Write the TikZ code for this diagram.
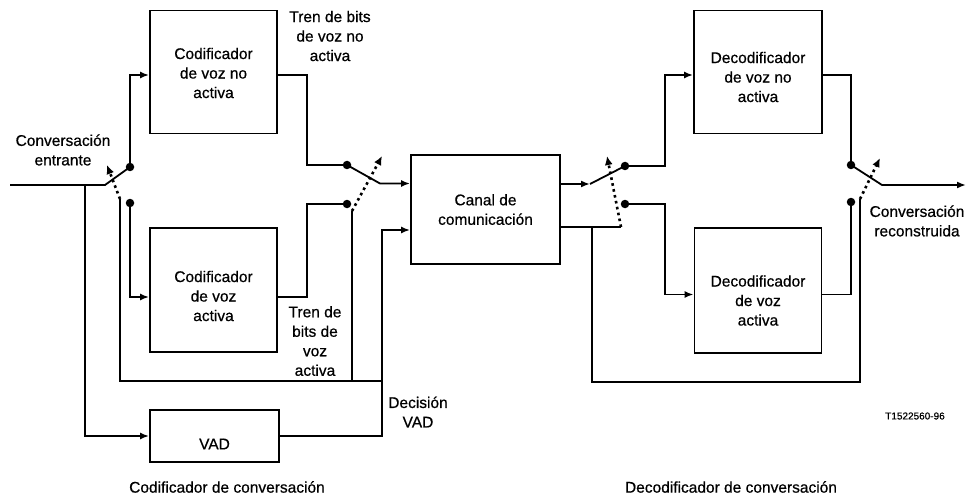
\documentclass[tikz,border=0pt]{standalone}
\usepackage{fontspec}
\setmainfont{Liberation Sans}[FakeBold=0.6]
\usetikzlibrary{arrows.meta}
\tikzset{
  wire/.style={line width=1.8pt, line join=miter},
  arr/.style={-{Latex[length=9pt,width=7pt]}},
  ctrl/.style={line width=2.6pt, dash pattern=on 2.6pt off 3.4pt,
               -{Latex[length=9pt,width=8pt]}},
  contact/.style={circle, fill=black, inner sep=0pt, minimum size=8.5pt},
  blk/.style={draw, line width=1.8pt, inner sep=0pt},
  lbl/.style={align=center, inner sep=0pt, font=\fontsize{15.5}{19.5}\selectfont}
}
\begin{document}
\begin{tikzpicture}[x=1pt,y=-1pt]
\useasboundingbox (0,0) rectangle (968,497);

% blocks
\node[blk, minimum width=127pt, minimum height=123pt] (cnv)   at (213.5,72)  {};
\node[blk, minimum width=127pt, minimum height=124pt] (cva)   at (213.5,290) {};
\node[blk, minimum width=129pt, minimum height=52pt]  (vad)   at (214.5,436) {};
\node[blk, minimum width=149pt, minimum height=109pt] (canal) at (485.5,209.5) {};
\node[blk, minimum width=128pt, minimum height=123pt] (dnv)   at (758,72)    {};
\node[blk, minimum width=127pt, minimum height=125pt] (dva)   at (758,290.5) {};

% block captions
\node[lbl] (tcnv) at ([yshift=-1pt]cnv.center)   {Codificador\\de voz no\\activa};
\node[lbl] (tcva) at ([yshift=-6pt]cva.center)   {Codificador\\de voz\\activa};
\node[lbl] (tvad) at ([yshift=-8pt]vad.center)   {VAD};
\node[lbl] (tcan) at ([yshift=0pt]canal.center)  {Canal de\\comunicación};
\node[lbl] (tdnv) at ([yshift=-5pt]dnv.center)   {Decodificador\\de voz no\\activa};
\node[lbl] (tdva) at ([yshift=-10pt]dva.center)  {Decodificador\\de voz\\activa};

% input switch
\coordinate (inp) at (10,185);
\coordinate (bend) at (105,185);
\coordinate (tap) at (85,185);
\node[contact] (s1u) at (130,167) {};
\node[contact] (s1l) at (130,203) {};
\draw[wire] (inp) -- (bend) -- (s1u.center);
\draw[wire,arr] (s1u.center) |- ([yshift=-3pt]cnv.west);
\draw[wire,arr] (s1l.center) |- ([yshift=-7pt]cva.west);
\draw[wire,arr] (tap) |- (vad.west);

% encoder output switch
\node[contact] (s2u) at (347,165) {};
\node[contact] (s2l) at (347,204) {};
\coordinate (k1) at (380,183.5);
\coordinate (k2) at (382,230);
\draw[wire] ([yshift=-3pt]cnv.east) -| (307,165) -- (s2u.center);
\draw[wire] ([yshift=-7pt]cva.east) -| (307,204) -- (s2l.center);
\draw[wire,arr] (s2u.center) -- (k1) -- (k1 -| canal.west);
\draw[wire,arr] (vad.east) -| (k2) -- (k2 -| canal.west);

% VAD decision bus on the encoder side
\coordinate (c1) at (120,199);
\coordinate (c1tip) at (107,165);
\coordinate (c2) at (352,211);
\coordinate (c2tip) at (382,156);
\coordinate (busR) at (382,381);
\draw[wire] (c1) -- (c1 |- busR) -- (busR);
\draw[wire] (c2) -- (c2 |- busR);
\draw[ctrl] (c1) -- (c1tip);
\draw[ctrl] (c2) -- (c2tip);

% decoder input switch
\coordinate (k3) at (590,184);
\node[contact] (s3u) at (625,166) {};
\node[contact] (s3l) at (625,204) {};
\coordinate (r1) at (665,166);
\coordinate (r2) at (665,204);
\draw[wire,arr] (k3 -| canal.east) -- (k3);
\draw[wire] (k3) -- (s3u.center);
\draw[wire,arr] (s3u.center) -- (r1) |- ([yshift=-3pt]dnv.west);
\draw[wire,arr] (s3l.center) -- (r2) |- ([yshift=-4pt]dva.west);

% decision bus on the decoder side
\coordinate (c3) at (621,227);
\coordinate (c3tip) at (607,156);
\coordinate (tap2) at (592,227);
\coordinate (c4) at (860,199);
\coordinate (c4tip) at (880,158);
\coordinate (busB) at (592,382);
\draw[wire] (canal.east |- c3) -- (c3);
\draw[wire] (tap2) -- (busB) -- (busB -| c4) -- (c4);
\draw[ctrl] (c3) -- (c3tip);
\draw[ctrl] (c4) -- (c4tip);

% output switch
\node[contact] (s4u) at (851,165) {};
\node[contact] (s4l) at (851,202) {};
\coordinate (k4) at (882,185);
\coordinate (outp) at (966,185);
\draw[wire] ([yshift=-3pt]dnv.east) -| (s4u.center);
\draw[wire] ([yshift=-4pt]dva.east) -| (s4l.center);
\draw[wire,arr] (s4u.center) -- (k4) -- (outp);

% labels
\node[lbl] (tin)  at (63,150)  {Conversación\\entrante};
\node[lbl] (tnv)  at (330,36)  {Tren de bits\\de voz no\\activa};
\node[lbl] (tva)  at (315,341) {Tren de\\bits de\\voz\\activa};
\node[lbl] (tdec) at (418,412) {Decisión\\VAD};
\node[lbl] (tout) at (917,221) {Conversación\\reconstruida};
\node[lbl] (tcod) at (227,487) {Codificador de conversación};
\node[lbl] (tdco) at (731,487) {Decodificador de conversación};
\node[inner sep=0pt, font=\fontsize{10}{12}\selectfont] (tref) at (915,416) {T1522560-96};
\end{tikzpicture}
\end{document}
